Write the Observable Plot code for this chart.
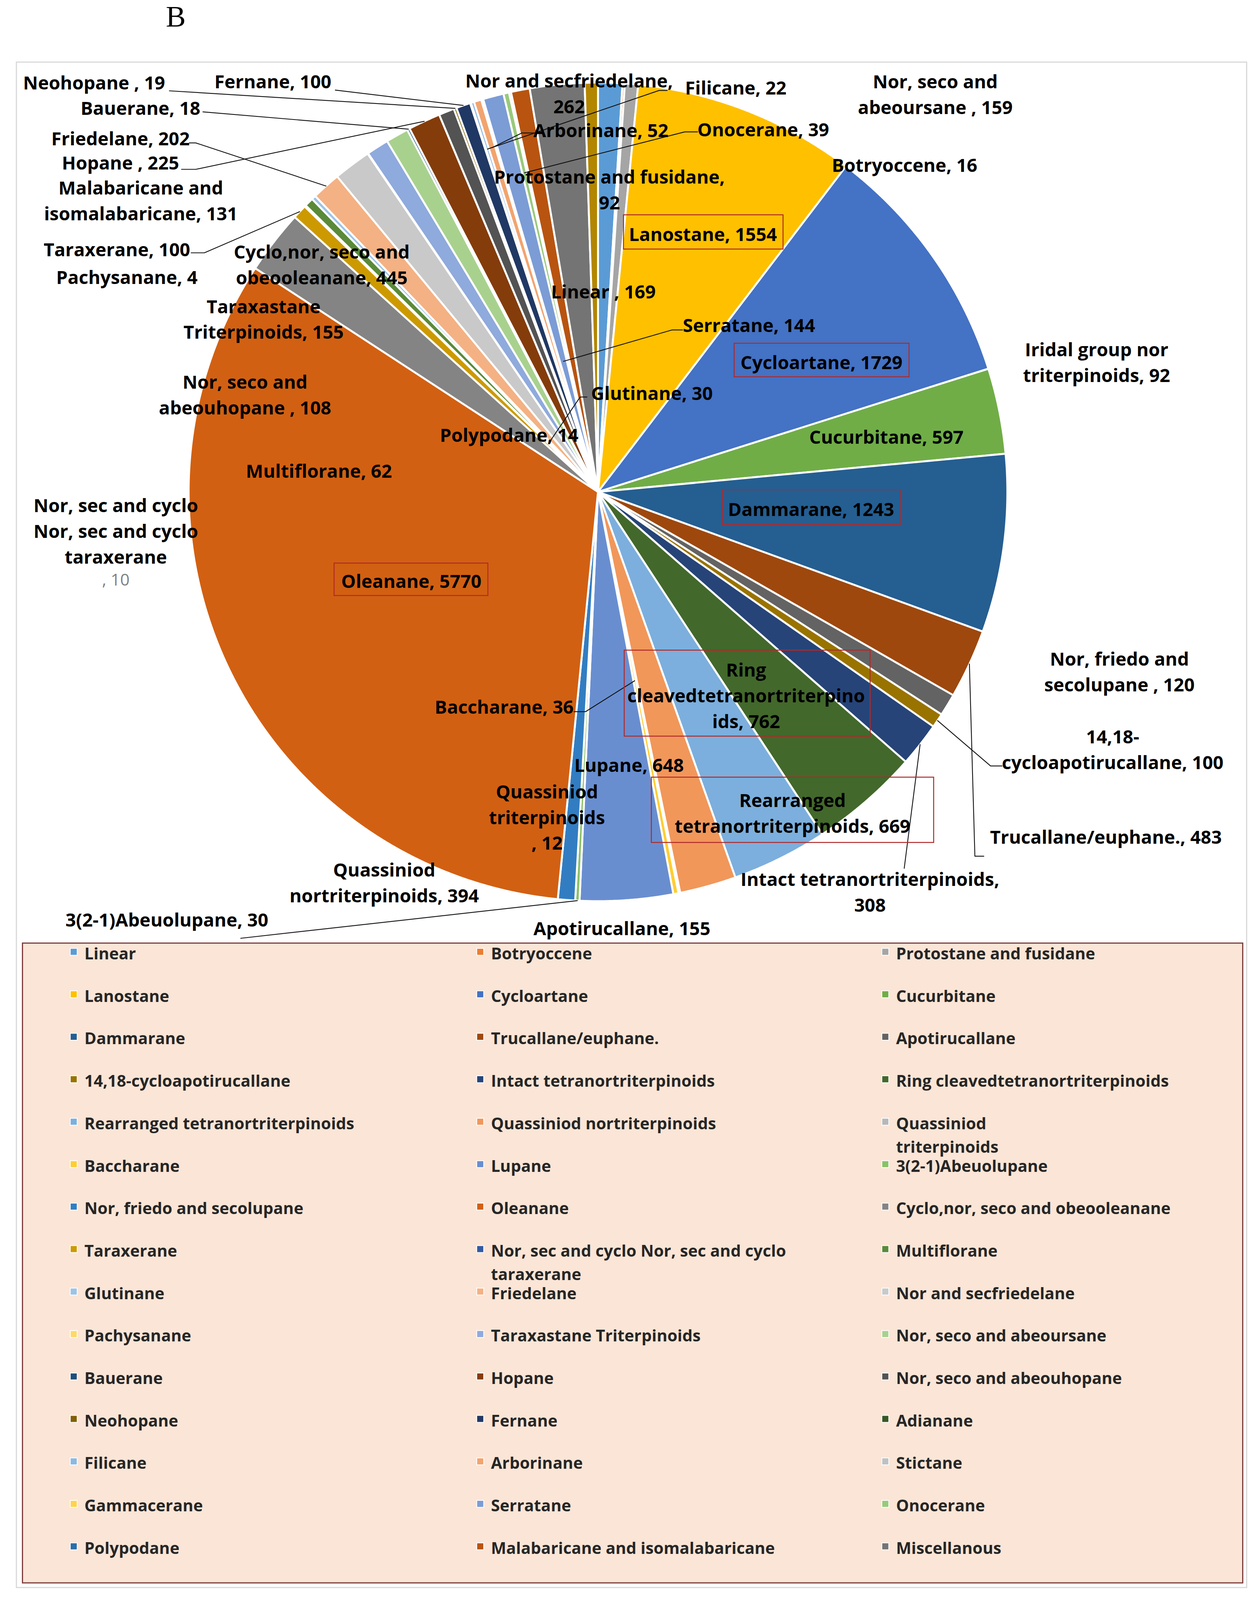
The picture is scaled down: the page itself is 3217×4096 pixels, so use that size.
<!DOCTYPE html>
<html>
<head>
<meta charset="utf-8">
<script src="https://cdn.jsdelivr.net/npm/d3@7"></script>
<script src="https://cdn.jsdelivr.net/npm/@observablehq/plot@0.6"></script>
<style>
  html, body { margin: 0; padding: 0; background: #fff; }
  #chart svg { display: block; }
</style>
</head>
<body>
<div id="chart"></div>
<script>
// ---------------- DATA ----------------
const categories = [
  "Linear", "Botryoccene", "Protostane and fusidane",
  "Lanostane", "Cycloartane", "Cucurbitane",
  "Dammarane", "Trucallane/euphane.", "Apotirucallane",
  "14,18-cycloapotirucallane", "Intact tetranortriterpinoids", "Ring cleavedtetranortriterpinoids",
  "Rearranged tetranortriterpinoids", "Quassiniod nortriterpinoids", "Quassiniod triterpinoids",
  "Baccharane", "Lupane", "3(2-1)Abeuolupane",
  "Nor, friedo and secolupane", "Oleanane", "Cyclo,nor, seco and obeooleanane",
  "Taraxerane", "Nor, sec and cyclo Nor, sec and cyclo taraxerane", "Multiflorane",
  "Glutinane", "Friedelane", "Nor and secfriedelane",
  "Pachysanane", "Taraxastane Triterpinoids", "Nor, seco and abeoursane",
  "Bauerane", "Hopane", "Nor, seco and abeouhopane",
  "Neohopane", "Fernane", "Adianane",
  "Filicane", "Arborinane", "Stictane",
  "Gammacerane", "Serratane", "Onocerane",
  "Polypodane", "Malabaricane and isomalabaricane", "Miscellanous",
  "Iridal group nor triterpinoids"
];
const values = [
  169, 16, 92,
  1554, 1729, 597,
  1243, 483, 155,
  100, 308, 762,
  669, 394, 12,
  36, 648, 30,
  120, 5770, 445,
  100, 10, 62,
  30, 202, 262,
  4, 155, 159,
  18, 225, 108,
  19, 100, 6,
  22, 52, 8,
  6, 144, 39,
  14, 131, 380,
  92
];
// series shown in the legend (the last series has no legend entry)
const legendCategories = categories.slice(0, 45);
const legendWrap = {
  "Quassiniod triterpinoids": "Quassiniod\ntriterpinoids",
  "Nor, sec and cyclo Nor, sec and cyclo taraxerane": "Nor, sec and cyclo Nor, sec and cyclo\ntaraxerane"
};

// ---------------- STYLE / LAYOUT ----------------
const accents = ["#5B9BD5", "#ED7D31", "#A5A5A5", "#FFC000", "#4472C4", "#70AD47"];
const lumMods = [[1, 0], [0.6, 0], [0.8, 0.2], [0.8, 0], [0.6, 0.4], [0.5, 0], [0.7, 0.3], [0.7, 0], [0.5, 0.5]];
const palette = categories.map((_, i) => {
  const c = d3.hsl(accents[i % 6]);
  const [m, o] = lumMods[Math.floor(i / 6)];
  c.l = c.l * m + o;
  return c.formatHex();
});

// reference coordinate frame (px of the 3522 x 4484 original)
const REF_W = 3522, REF_H = 4484, W = 3217, H = 4096;
const PIE = {cx: 1675, cy: 1378, r: 1147};
const LABEL_FONT = 47, LABEL_LH = 72;      // px (window), ref units
const LEGEND_FONT = 41.5, LEGEND_LH = 66;

// hand-placed data labels (positions are layout, in reference px)
const labelLayout = [
  {name: "Neohopane", lines: ["Neohopane , {v}"], x: 263, y: 227},
  {name: "Fernane", lines: ["Fernane, {v}"], x: 764, y: 224},
  {name: "Bauerane", lines: ["Bauerane, {v}"], x: 393, y: 298},
  {name: "Friedelane", lines: ["Friedelane, {v}"], x: 337, y: 384},
  {name: "Hopane", lines: ["Hopane , {v}"], x: 337, y: 452},
  {name: "Malabaricane and isomalabaricane", lines: ["Malabaricane and", "isomalabaricane, {v}"], x: 394, y: 522},
  {name: "Taraxerane", lines: ["Taraxerane, {v}"], x: 327, y: 695},
  {name: "Pachysanane", lines: ["Pachysanane, {v}"], x: 355, y: 772},
  {name: "Cyclo,nor, seco and obeooleanane", lines: ["Cyclo,nor, seco and", "obeooleanane, {v}"], x: 901, y: 701},
  {name: "Taraxastane Triterpinoids", lines: ["Taraxastane", "Triterpinoids, {v}"], x: 738, y: 854},
  {name: "Nor, seco and abeouhopane", lines: ["Nor, seco and", "abeouhopane , {v}"], x: 686, y: 1066},
  {name: "Multiflorane", lines: ["Multiflorane, {v}"], x: 893, y: 1315},
  {name: "Nor, sec and cyclo Nor, sec and cyclo taraxerane", lines: ["Nor, sec and cyclo", "Nor, sec and cyclo", "taraxerane"], x: 324, y: 1412, valueLine: {x: 324, y: 1626}},
  {name: "Oleanane", lines: ["Oleanane, {v}"], x: 1152, y: 1624, box: [936, 1578, 1367, 1669]},
  {name: "Baccharane", lines: ["Baccharane, {v}"], x: 1412, y: 1976},
  {name: "Quassiniod triterpinoids", lines: ["Quassiniod", "triterpinoids", ", {v}"], x: 1532, y: 2214},
  {name: "Quassiniod nortriterpinoids", lines: ["Quassiniod", "nortriterpinoids, {v}"], x: 1076, y: 2433},
  {name: "3(2-1)Abeuolupane", lines: ["3(2-1)Abeuolupane, {v}"], x: 467, y: 2573},
  {name: "Apotirucallane", lines: ["Apotirucallane, {v}"], x: 1742, y: 2597},
  {name: "Lupane", lines: ["Lupane, {v}"], x: 1762, y: 2140},
  {name: "Ring cleavedtetranortriterpinoids", lines: ["Ring", "cleavedtetranortriterpino", "ids, {v}"], x: 2090, y: 1873, box: [1749, 1822, 2438, 2063]},
  {name: "Rearranged tetranortriterpinoids", lines: ["Rearranged", "tetranortriterpinoids, {v}"], x: 2220, y: 2238, box: [1825, 2178, 2616, 2361]},
  {name: "Intact tetranortriterpinoids", lines: ["Intact tetranortriterpinoids,", "{v}"], x: 2437, y: 2459},
  {name: "Nor, friedo and secolupane", lines: ["Nor, friedo and", "secolupane , {v}"], x: 3136, y: 1842},
  {name: "14,18-cycloapotirucallane", lines: ["14,18-", "cycloapotirucallane, {v}"], x: 3117, y: 2060},
  {name: "Trucallane/euphane.", lines: ["Trucallane/euphane., {v}"], x: 3098, y: 2341},
  {name: "Iridal group nor triterpinoids", lines: ["Iridal group nor", "triterpinoids, {v}"], x: 3072, y: 975},
  {name: "Cucurbitane", lines: ["Cucurbitane, {v}"], x: 2483, y: 1220},
  {name: "Cycloartane", lines: ["Cycloartane, {v}"], x: 2301, y: 1011, box: [2057, 962, 2547, 1056]},
  {name: "Dammarane", lines: ["Dammarane, {v}"], x: 2272, y: 1422, box: [2024, 1372, 2522, 1470]},
  {name: "Serratane", lines: ["Serratane, {v}"], x: 2098, y: 907},
  {name: "Glutinane", lines: ["Glutinane, {v}"], x: 1826, y: 1097},
  {name: "Polypodane", lines: ["Polypodane, {v}"], x: 1426, y: 1215},
  {name: "Linear", lines: ["Linear , {v}"], x: 1690, y: 813},
  {name: "Lanostane", lines: ["Lanostane, {v}"], x: 1969, y: 652, box: [1747, 602, 2194, 698]},
  {name: "Protostane and fusidane", lines: ["Protostane and fusidane,", "{v}"], x: 1707, y: 491},
  {name: "Arborinane", lines: ["Arborinane, {v}"], x: 1683, y: 361},
  {name: "Onocerane", lines: ["Onocerane, {v}"], x: 2138, y: 358},
  {name: "Filicane", lines: ["Filicane, {v}"], x: 2061, y: 241},
  {name: "Nor and secfriedelane", lines: ["Nor and secfriedelane,", "{v}"], x: 1594, y: 222},
  {name: "Nor, seco and abeoursane", lines: ["Nor, seco and", "abeoursane , {v}"], x: 2620, y: 224},
  {name: "Botryoccene", lines: ["Botryoccene, {v}"], x: 2534, y: 458}
];

// leader lines: start points near the label, end on the slice at fraction f of the radius
const leaderLayout = [
  {name: "Neohopane", from: [[474, 254]], f: 1},
  {name: "Fernane", from: [[939, 252]], f: 1},
  {name: "Bauerane", from: [[568, 313]], f: 1},
  {name: "Friedelane", from: [[530, 400], [548, 400]], f: 1},
  {name: "Hopane", from: [[508, 474], [548, 474]], f: 1},
  {name: "Taraxerane", from: [[535, 708], [572, 708]], f: 1},
  {name: "Glutinane", from: [[1644, 1112], [1625, 1112]], f: 0.17},
  {name: "Serratane", from: [[1912, 924], [1883, 924]], f: 0.33},
  {name: "Onocerane", from: [[1954, 369], [1918, 369]], f: 0.8},
  {name: "Arborinane", from: [[1495, 372], [1462, 372]], f: 0.88},
  {name: "Filicane", from: [[1869, 253], [1846, 253]], f: 0.88},
  {name: "Baccharane", from: [[1608, 1994], [1640, 1994]], f: 0.47},
  {name: "3(2-1)Abeuolupane", from: [[674, 2629]], f: 1},
  {name: "Trucallane/euphane.", from: [[2756, 2399], [2731, 2399]], f: 1},
  {name: "14,18-cycloapotirucallane", from: [[2807, 2146], [2775, 2146]], f: 1},
  {name: "Intact tetranortriterpinoids", from: [[2533, 2433]], f: 1}
];

const LEGEND = {x1: 63, y1: 2643, x2: 3482, y2: 4436, colX: [206, 1345, 2480], textDx: 30, row0: 2667, rowStep: 119};
const FRAME = {x1: 46, y1: 174, x2: 3493, y2: 4449};

// ---------------- DERIVED ----------------
const table = categories.map((name, i) => ({name, value: values[i], color: palette[i]}));
const valueOf = new Map(table.map(d => [d.name, d.value]));
const arcs = d3.pie().sort(null).value(d => d.value).startAngle(0).endAngle(2 * Math.PI)(table);
const arcOf = new Map(arcs.map(a => [a.data.name, a]));

const polar = (a, rr) => ({x: PIE.cx + rr * Math.sin(a), y: PIE.cy - rr * Math.cos(a)});

const piePts = [];
for (const a of arcs) {
  const n = Math.max(2, Math.ceil((a.endAngle - a.startAngle) / (Math.PI / 720)));
  piePts.push({name: a.data.name, color: a.data.color, x: PIE.cx, y: PIE.cy});
  for (let k = 0; k <= n; k++) {
    const p = polar(a.startAngle + (a.endAngle - a.startAngle) * k / n, PIE.r);
    piePts.push({name: a.data.name, color: a.data.color, ...p});
  }
  piePts.push({name: a.data.name, color: a.data.color, x: PIE.cx, y: PIE.cy});
}

const leaderPts = [];
for (const l of leaderLayout) {
  const a = arcOf.get(l.name);
  const mid = (a.startAngle + a.endAngle) / 2;
  for (const [x, y] of l.from) leaderPts.push({name: l.name, x, y});
  leaderPts.push({name: l.name, ...polar(mid, l.f * PIE.r)});
}

const labels = labelLayout.map(l => {
  const v = valueOf.get(l.name);
  const lines = l.lines.map(s => s.replace("{v}", v));
  return {name: l.name, text: lines.join("\n"), x: l.x, y: l.y + (lines.length - 1) * LABEL_LH / 2};
});
const valueLines = labelLayout.filter(l => l.valueLine).map(l => ({text: ", " + valueOf.get(l.name), x: l.valueLine.x, y: l.valueLine.y}));
const boxes = labelLayout.filter(l => l.box).map(l => ({x1: l.box[0], y1: l.box[1], x2: l.box[2], y2: l.box[3]}));

const legendItems = legendCategories.map((name, i) => {
  const text = legendWrap[name] || name;
  const n = text.split("\n").length;
  const col = i % 3, row = Math.floor(i / 3);
  const y = LEGEND.row0 + row * LEGEND.rowStep;
  return {name, text, color: palette[i], mx: LEGEND.colX[col], my: y, tx: LEGEND.colX[col] + LEGEND.textDx, ty: y + (n - 1) * LEGEND_LH / 2};
});

const sx = W / REF_W;
const font = "'Open Sans', 'Noto Sans', sans-serif";

const chart = Plot.plot({
  width: W,
  height: H,
  margin: 0,
  x: {domain: [0, REF_W], range: [0, W], axis: null},
  y: {domain: [0, REF_H], range: [0, H], axis: null},
  color: {type: "identity"},
  style: {background: "#ffffff"},
  marks: [
    // chart area frame
    Plot.rect([FRAME], {x1: "x1", x2: "x2", y1: "y1", y2: "y2", fill: "none", stroke: "#d9d9d9", strokeWidth: 3}),
    // panel letter
    Plot.text(["B"], {x: 492, y: 47, text: d => d, fontSize: 76, fontFamily: "'Liberation Serif', 'DejaVu Serif', serif", fill: "#000"}),
    // pie slices
    Plot.line(piePts, {x: "x", y: "y", z: "name", fill: "color", stroke: "#ffffff", strokeWidth: 5, strokeLinejoin: "round"}),
    // leader lines
    Plot.line(leaderPts, {x: "x", y: "y", z: "name", stroke: "#111", strokeWidth: 2.2}),
    // highlight boxes
    Plot.rect(boxes, {x1: "x1", x2: "x2", y1: "y1", y2: "y2", fill: "none", stroke: "#b02a2a", strokeWidth: 2.5}),
    // data labels
    Plot.text(labels, {x: "x", y: "y", text: "text", fontSize: LABEL_FONT, fontWeight: "bold", fontFamily: font, fill: "#000", lineHeight: LABEL_LH * sx / LABEL_FONT}),
    Plot.text(valueLines, {x: "x", y: "y", text: "text", fontSize: LABEL_FONT * 0.9, fontFamily: font, fill: "#7f7f7f"}),
    // legend box
    Plot.rect([LEGEND], {x1: "x1", x2: "x2", y1: "y1", y2: "y2", fill: "#fbe5d6", stroke: "#7d3c3c", strokeWidth: 3}),
    // legend swatches
    Plot.dot(legendItems, {x: "mx", y: "my", fill: "color", stroke: "#ffffff", strokeWidth: 2, symbol: "square", r: 10}),
    // legend texts
    Plot.text(legendItems, {x: "tx", y: "ty", text: "text", textAnchor: "start", fontSize: LEGEND_FONT, fontWeight: "bold", fontFamily: font, fill: "#262626", lineHeight: LEGEND_LH * sx / LEGEND_FONT})
  ]
});
document.getElementById("chart").appendChild(chart);
</script>
</body>
</html>
